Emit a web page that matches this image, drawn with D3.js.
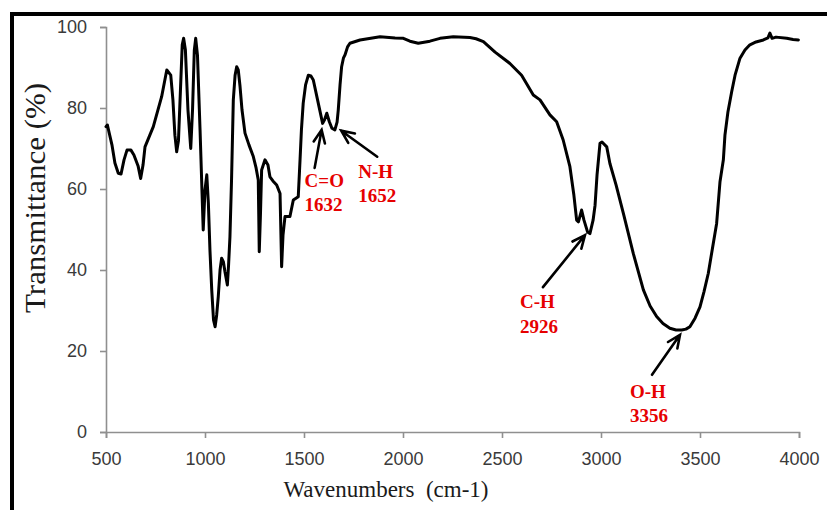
<!DOCTYPE html>
<html>
<head>
<meta charset="utf-8">
<script src="https://cdn.jsdelivr.net/npm/d3@7/dist/d3.min.js"></script>
<style>
  html, body { margin: 0; padding: 0; background: #fff; }
  svg { display: block; }
</style>
</head>
<body>
<svg id="chart" width="827" height="510"></svg>
<script>
// FTIR spectrum: wavenumber (cm-1) vs transmittance (%)
const wavenumbers = [
  500, 507, 530, 545, 562, 576, 591, 606, 626, 641, 662, 675, 687, 697, 739, 781, 807, 827, 838, 848,
  857, 866, 876, 885, 892, 901, 914, 928, 937, 946, 953, 962, 975, 991, 1000, 1009, 1017, 1025, 1034, 1043,
  1051, 1059, 1067, 1076, 1084, 1093, 1101, 1113, 1119, 1126, 1134, 1143, 1152, 1160, 1168, 1177, 1187, 1202, 1222, 1244,
  1258, 1269, 1274, 1280, 1286, 1303, 1318, 1328, 1343, 1362, 1379, 1387, 1394, 1404, 1429, 1446, 1471, 1480, 1487, 1496,
  1508, 1522, 1535, 1547, 1572, 1594, 1603, 1615, 1628, 1641, 1656, 1667, 1673, 1682, 1690, 1699, 1707, 1720, 1732, 1783,
  1884, 1960, 2002, 2035, 2077, 2136, 2187, 2254, 2338, 2369, 2406, 2465, 2540, 2599, 2658, 2692, 2742, 2776, 2809, 2843,
  2863, 2877, 2886, 2902, 2914, 2932, 2944, 2960, 2970, 2980, 2995, 3005, 3029, 3045, 3076, 3113, 3163, 3214, 3248, 3281,
  3313, 3348, 3379, 3408, 3429, 3449, 3475, 3500, 3520, 3542, 3563, 3584, 3601, 3618, 3626, 3641, 3660, 3677, 3702, 3727,
  3752, 3783, 3820, 3843, 3853, 3864, 3884, 3938, 3970, 3997
];
const transmittance = [
  75.4, 75.8, 70.9, 66.4, 63.9, 63.7, 67.2, 69.6, 69.6, 68.4, 65.7, 62.6, 65.9, 70.4, 75.4, 82.8, 89.4, 88.1, 82.0, 73.3,
  69.2, 72.0, 84.4, 95.6, 97.2, 94.3, 79.5, 70.0, 79.5, 94.3, 97.2, 93.0, 74.6, 49.9, 59.8, 63.5, 56.5, 44.9, 35.1, 27.7,
  26.0, 28.9, 33.4, 40.0, 42.9, 42.0, 39.5, 36.3, 41.2, 48.2, 62.2, 82.0, 88.1, 90.2, 89.4, 85.3, 79.5, 73.8, 70.9, 68.0,
  65.2, 62.2, 44.5, 53.6, 64.7, 67.2, 65.9, 63.0, 62.0, 61.0, 58.9, 40.8, 48.6, 53.2, 53.2, 57.3, 58.1, 67.2, 74.6, 81.2,
  85.7, 88.1, 87.9, 86.9, 81.2, 76.2, 77.0, 78.7, 76.6, 75.0, 74.6, 76.5, 79.5, 85.7, 90.2, 92.3, 93.1, 95.1, 96.0, 96.8,
  97.6, 97.3, 97.2, 96.5, 96.0, 96.5, 97.2, 97.6, 97.4, 97.1, 96.4, 93.8, 91.0, 88.1, 83.2, 82.0, 78.3, 76.6, 72.1, 65.5,
  58.5, 52.3, 51.9, 54.8, 52.3, 49.4, 49.0, 52.3, 56.0, 63.5, 71.3, 71.6, 70.4, 66.3, 61.0, 54.0, 44.1, 35.1, 31.1, 28.5,
  26.8, 25.6, 25.2, 25.2, 25.4, 26.0, 28.1, 30.9, 34.6, 39.2, 45.4, 51.5, 61.8, 67.2, 73.3, 79.0, 84.0, 88.1, 92.3, 94.3,
  95.6, 96.3, 96.8, 97.3, 98.5, 97.2, 97.5, 97.2, 96.9, 96.8
];
const xTicks = [500, 1000, 1500, 2000, 2500, 3000, 3500, 4000];
const yTicks = [0, 20, 40, 60, 80, 100];

// Band assignments: label, wavenumber text, and where each arrow points on the trace
const bandLabels = ["C=O", "N-H", "C-H", "O-H"];
const bandValues = ["1632", "1652", "2926", "3356"];
const bandTipWn = [1589, 1688, 2919, 3399];
const bandTipT = [74.6, 74.4, 48.6, 24.0];

const svg = d3.select("#chart");
const margin = { left: 106, right: 28, top: 27, bottom: 78 };
const W = 827, H = 510;

const x = d3.scaleLinear().domain([500, 4000]).range([margin.left, W - margin.right]);
const y = d3.scaleLinear().domain([0, 100]).range([H - margin.bottom, margin.top]);

// Outer frame (runs past the right and bottom edges)
svg.append("rect")
  .attr("x", 12).attr("y", 14)
  .attr("width", 900).attr("height", 600)
  .attr("fill", "none").attr("stroke", "#000").attr("stroke-width", 4);

const axisColor = "#8f8f8f";
const tickFont = "'Liberation Sans', Arial, sans-serif";

// Y axis
const yAxis = svg.append("g")
  .attr("transform", `translate(${margin.left},0)`)
  .call(d3.axisLeft(y).tickValues(yTicks).tickSize(6).tickPadding(13).tickFormat(d3.format("d")));
yAxis.select(".domain").attr("stroke", axisColor).attr("stroke-width", 1.6);
yAxis.selectAll(".tick line").attr("stroke", axisColor).attr("stroke-width", 1.6);
yAxis.selectAll(".tick text")
  .attr("fill", "#3a3a3a").style("font-family", tickFont).style("font-size", "18px");

// X axis
const xAxis = svg.append("g")
  .attr("transform", `translate(0,${y(0)})`)
  .call(d3.axisBottom(x).tickValues(xTicks).tickSize(6).tickPadding(14).tickFormat(d3.format("d")));
xAxis.select(".domain").attr("stroke", axisColor).attr("stroke-width", 1.6);
xAxis.selectAll(".tick line").attr("stroke", axisColor).attr("stroke-width", 1.6);
xAxis.selectAll(".tick text")
  .attr("fill", "#3a3a3a").style("font-family", tickFont).style("font-size", "18px");

// Axis titles
const serif = "'Liberation Serif', 'Times New Roman', serif";
svg.append("text")
  .attr("transform", `translate(45,${(83 + 313) / 2}) rotate(-90)`)
  .attr("text-anchor", "middle")
  .attr("textLength", 230).attr("lengthAdjust", "spacingAndGlyphs")
  .style("font-family", serif).style("font-size", "30px").attr("fill", "#1a1a1a")
  .text("Transmittance (%)");

svg.append("text")
  .attr("x", 386).attr("y", 497)
  .attr("text-anchor", "middle")
  .style("font-family", serif).style("font-size", "23px").attr("fill", "#1a1a1a")
  .style("white-space", "pre")
  .text("Wavenumbers  (cm-1)");

// Spectrum trace
const pts = wavenumbers.map((w, i) => [w, transmittance[i]]);
svg.append("path")
  .datum(pts)
  .attr("d", d3.line().x(d => x(d[0])).y(d => y(d[1])))
  .attr("fill", "none").attr("stroke", "#000")
  .attr("stroke-width", 3).attr("stroke-linejoin", "round").attr("stroke-linecap", "round");

// Arrow annotations: pixel offset from tip to tail, and from tail to label
const tailOffsets = [[-7, 38], [36, 26], [-42, 52], [-28, 40]];
const labelOffsets = [[-10, 19], [-19, 21], [-23, 21], [-22, 23]];

const ann = svg.append("g");
bandLabels.forEach((lab, i) => {
  const tx = x(bandTipWn[i]), ty = y(bandTipT[i]);
  const sx = tx + tailOffsets[i][0], sy = ty + tailOffsets[i][1];
  const ang = Math.atan2(ty - sy, tx - sx);
  const hl = 14, spread = 0.42;
  const w1 = [tx - hl * Math.cos(ang - spread), ty - hl * Math.sin(ang - spread)];
  const w2 = [tx - hl * Math.cos(ang + spread), ty - hl * Math.sin(ang + spread)];
  ann.append("path")
    .attr("d", `M${sx},${sy}L${tx},${ty}M${w1[0]},${w1[1]}L${tx},${ty}L${w2[0]},${w2[1]}`)
    .attr("fill", "none").attr("stroke", "#000").attr("stroke-width", 2.6)
    .attr("stroke-linecap", "round").attr("stroke-linejoin", "miter");

  const lx = sx + labelOffsets[i][0], ly = sy + labelOffsets[i][1];
  const t = ann.append("text")
    .attr("x", lx).attr("y", ly)
    .style("font-family", serif).style("font-size", "19px").style("font-weight", "bold")
    .attr("fill", "#e60000");
  t.append("tspan").attr("x", lx).text(lab);
  t.append("tspan").attr("x", lx).attr("dy", 24.5).text(bandValues[i]);
});
</script>
</body>
</html>
